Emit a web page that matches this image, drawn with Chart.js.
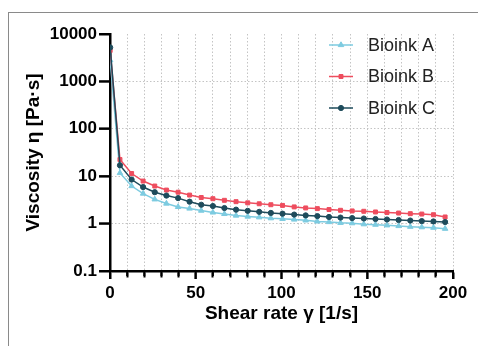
<!DOCTYPE html>
<html>
<head>
<meta charset="utf-8">
<script src="https://cdn.jsdelivr.net/npm/chart.js@4/dist/chart.umd.min.js"></script>
<style>
  html, body { margin: 0; padding: 0; background: #fff; }
  #wrap { position: relative; width: 478px; height: 346px; }
  #frame { position: absolute; left: 8px; top: 12px; right: -10px; bottom: -10px;
           border-left: 1.5px solid #8a8a8a; border-top: 1.5px solid #8a8a8a; }
  canvas { position: absolute; left: 0; top: 0; }
  #ticks { pointer-events: none; }
</style>
</head>
<body>
<div id="wrap">
  <div id="frame"></div>
  <canvas id="chart" width="478" height="346"></canvas>
  <canvas id="ticks" width="478" height="346"></canvas>
</div>
<script>
// shear rate [1/s] for each measurement
const shearRate = [0.1, 5.8, 12.6, 19.3, 26.1, 32.9, 39.7, 46.4, 53.2, 60.0,
                   66.7, 73.5, 80.3, 87.0, 93.8, 100.6, 107.4, 114.1, 120.9, 127.7,
                   134.4, 141.2, 148.0, 154.8, 161.5, 168.3, 175.1, 181.8, 188.6, 195.4];

// viscosity [Pa.s]
const bioinkA = [2800, 11.7, 6.2, 4.3, 3.25, 2.65, 2.25, 2.08, 1.88, 1.72,
                 1.6, 1.48, 1.41, 1.36, 1.3, 1.26, 1.22, 1.17, 1.11, 1.08,
                 1.04, 1.02, 0.97, 0.95, 0.92, 0.89, 0.86, 0.84, 0.82, 0.78];
const bioinkB = [4500, 22.5, 11.4, 7.9, 6.2, 5.1, 4.6, 4.0, 3.55, 3.35,
                 3.1, 2.9, 2.74, 2.62, 2.5, 2.42, 2.25, 2.14, 2.07, 1.98,
                 1.91, 1.85, 1.82, 1.76, 1.71, 1.67, 1.62, 1.59, 1.54, 1.38];
const bioinkC = [5200, 17, 8.5, 5.9, 4.6, 3.9, 3.45, 2.9, 2.5, 2.35,
                 2.13, 1.97, 1.86, 1.77, 1.68, 1.62, 1.55, 1.49, 1.44, 1.38,
                 1.34, 1.31, 1.28, 1.25, 1.22, 1.19, 1.16, 1.13, 1.11, 1.08];

const seriesNames = ['Bioink A', 'Bioink B', 'Bioink C'];
const xTicks = [0, 10, 20, 30, 40, 50, 60, 70, 80, 90, 100, 110, 120, 130, 140, 150, 160, 170, 180, 190, 200];
const xLabels = [0, 50, 100, 150, 200];
const yTicks = [0.1, 1, 10, 100, 1000, 10000];

const FONT = "'Liberation Sans', Arial, sans-serif";

function pts(ys) {
    return ys.map((y, i) => ({ x: shearRate[i], y: y }));
}

// tick marks on an overlay canvas, placed with the chart's own scales
function drawTickMarks(chart) {
    const c = document.getElementById('ticks').getContext('2d');
    const xs = chart.scales.x, ys = chart.scales.y;
    const axisY = xs.top, axisX = ys.right;
    c.setTransform(1, 0, 0, 1, 0, 0);
    c.clearRect(0, 0, 478, 346);
    c.globalAlpha = 1;
    c.strokeStyle = '#000';
    c.lineWidth = 2;
    xTicks.forEach(v => {
        const px = xs.getPixelForValue(v);
        const len = (v % 50 === 0) ? 8 : 5;
        c.beginPath();
        c.moveTo(px, axisY);
        c.lineTo(px, axisY + len);
        c.stroke();
    });
    yTicks.forEach(v => {
        const py = ys.getPixelForValue(v);
        c.beginPath();
        c.moveTo(axisX - 11, py);
        c.lineTo(axisX, py);
        c.stroke();
    });
}

// legend in the upper right of the plot
const sideLegend = {
    id: 'sideLegend',
    afterDraw(chart) {
        const c = chart.ctx;
        c.save();
        c.setLineDash([]);
        seriesNames.forEach((name, i) => {
            const ds = chart.data.datasets.find(d => d.label === name);
            const y = 45 + i * 31.5;
            c.strokeStyle = ds.borderColor;
            c.lineWidth = 1.5;
            c.beginPath();
            c.moveTo(329, y);
            c.lineTo(353, y);
            c.stroke();
            c.fillStyle = ds.backgroundColor;
            c.lineWidth = 1;
            Chart.helpers.drawPoint(c, { pointStyle: ds.pointStyle, radius: ds.pointRadius, rotation: 0, borderWidth: 1 }, 341, y);
            c.fillStyle = '#222';
            c.font = '18px ' + FONT;
            c.textAlign = 'left';
            c.textBaseline = 'middle';
            c.fillText(name, 368, y + 1);
        });
        c.restore();
        drawTickMarks(chart);
    }
};

const chart = new Chart(document.getElementById('chart'), {
    type: 'line',
    data: {
        datasets: [
            { label: 'Bioink A', data: pts(bioinkA), borderColor: '#7dcbe0', backgroundColor: '#7dcbe0',
              pointStyle: 'triangle', pointRadius: 3.2, pointBorderWidth: 1, borderWidth: 1.5, order: 2 },
            { label: 'Bioink B', data: pts(bioinkB), borderColor: '#ee4d5e', backgroundColor: '#ee4d5e',
              pointStyle: 'rect', pointRadius: 2.8, pointBorderWidth: 1, borderWidth: 1.5, order: 1 },
            { label: 'Bioink C', data: pts(bioinkC), borderColor: '#1e4b5b', backgroundColor: '#1e4b5b',
              pointStyle: 'circle', pointRadius: 2.6, pointBorderWidth: 1, borderWidth: 1.5, order: 0 }
        ]
    },
    options: {
        responsive: false,
        animation: false,
        layout: { padding: { top: 34, right: 25, left: 0, bottom: 0 } },
        plugins: { legend: { display: false }, tooltip: { enabled: false } },
        scales: {
            x: {
                type: 'linear', min: 0, max: 200,
                afterBuildTicks: s => { s.ticks = xTicks.map(v => ({ value: v })); },
                afterFit: s => { s.height = 75; },
                ticks: {
                    autoSkip: false, maxRotation: 0, padding: 4, color: '#000',
                    font: { family: FONT, size: 17, weight: 'bold' },
                    callback: v => xLabels.includes(v) ? String(v) : ''
                },
                grid: {
                    drawTicks: true,
                    tickLength: 8,
                    tickWidth: 2,
                    tickColor: '#000',
                    // minor ticks: only the first 5px of the tick is drawn
                    tickBorderDash: c => (c.tick && c.tick.value % 50 === 0) ? [] : [5, 50],
                    color: c => (c.tick && c.tick.value === 0) ? 'rgba(0,0,0,0)' : '#c4c4c4',
                    lineWidth: 1
                },
                border: { display: true, color: '#000', width: 2.5, dash: [1.5, 2] },
                title: {
                    display: true, text: 'Shear rate γ [1/s]', color: '#000',
                    font: { family: FONT, size: 19, weight: 'bold' },
                    padding: { top: 0, bottom: 21 }
                }
            },
            y: {
                type: 'logarithmic', min: 0.1, max: 10000,
                afterBuildTicks: s => { s.ticks = yTicks.map(v => ({ value: v })); },
                afterFit: s => { s.width = 110; },
                ticks: {
                    autoSkip: false, padding: 2, color: '#000',
                    font: { family: FONT, size: 17, weight: 'bold' },
                    callback: v => String(v)
                },
                grid: {
                    drawTicks: true,
                    tickLength: 11,
                    tickWidth: 2,
                    tickColor: '#000',
                    tickBorderDash: [],
                    color: c => (c.tick && (c.tick.value === 0.1 || c.tick.value === 10000)) ? 'rgba(0,0,0,0)' : '#c4c4c4',
                    lineWidth: 1
                },
                border: { display: true, color: '#000', width: 2.5, dash: [1.5, 2] },
                title: {
                    display: true, text: 'Viscosity η [Pa·s]', color: '#000',
                    font: { family: FONT, size: 19, weight: 'bold' },
                    padding: { top: 22, bottom: 0 }
                }
            }
        }
    },
    plugins: [sideLegend]
});

drawTickMarks(chart);
</script>
</body>
</html>
